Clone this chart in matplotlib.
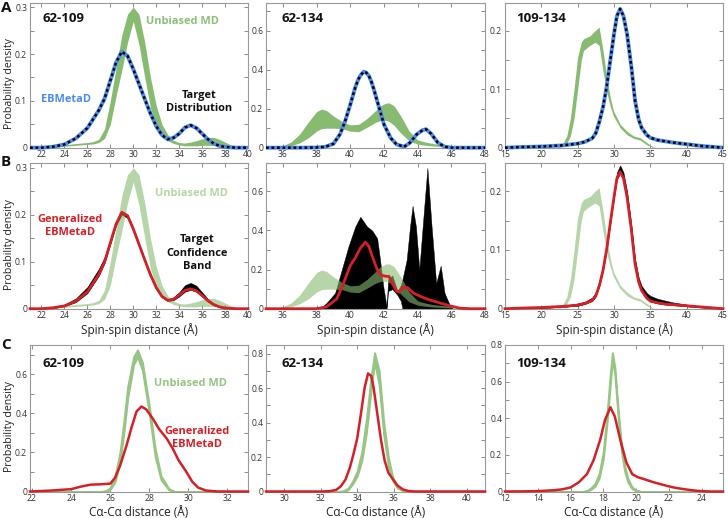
import numpy as np
import matplotlib
matplotlib.use("Agg")
import matplotlib.pyplot as plt
from matplotlib.ticker import MultipleLocator, FuncFormatter

plt.rcParams['font.family'] = ['Open Sans', 'DejaVu Sans']

# ---------------- DATA ----------------
# 62-109 spin-spin (panels A/B left)
x_t1 = [21, 22, 23, 24, 25, 26, 27, 27.5, 28, 28.5, 29, 29.5, 30, 30.5, 31, 31.5, 32, 32.5, 33, 33.5,
        34, 34.5, 35, 35.5, 36, 36.5, 37, 37.5, 38, 39, 40]
target_1 = [0, 0, 0.002, 0.007, 0.02, 0.042, 0.08, 0.105, 0.143, 0.182, 0.205, 0.196, 0.168, 0.136, 0.104,
            0.073, 0.046, 0.027, 0.018, 0.021, 0.03, 0.043, 0.048, 0.042, 0.03, 0.018, 0.009, 0.004, 0.0015, 0, 0]
gen_1 = [0, 0, 0.002, 0.006, 0.016, 0.036, 0.073, 0.1, 0.14, 0.18, 0.205, 0.198, 0.17, 0.137, 0.104, 0.072,
         0.045, 0.026, 0.018, 0.02, 0.029, 0.039, 0.042, 0.038, 0.028, 0.017, 0.009, 0.004, 0.0015, 0, 0]
band_hi_1 = [0, 0, 0.003, 0.009, 0.022, 0.046, 0.085, 0.11, 0.147, 0.185, 0.208, 0.2, 0.172, 0.139, 0.106,
             0.075, 0.048, 0.029, 0.02, 0.024, 0.035, 0.05, 0.055, 0.049, 0.035, 0.021, 0.011, 0.005, 0.002, 0, 0]
band_lo_1 = [0, 0, 0.001, 0.005, 0.014, 0.033, 0.07, 0.097, 0.137, 0.177, 0.2, 0.193, 0.165, 0.133, 0.1,
             0.069, 0.042, 0.024, 0.016, 0.018, 0.026, 0.036, 0.04, 0.036, 0.026, 0.015, 0.007, 0.003, 0.001, 0, 0]
x_md1 = [21, 22, 23, 24, 25, 26, 26.5, 27, 27.5, 28, 28.5, 29, 29.5, 30, 30.5, 31, 31.5, 32, 32.5, 33, 33.5,
         34, 34.5, 35, 35.5, 36, 36.5, 37, 37.5, 38, 38.5, 39, 40]
md_hi_1 = [0, 0.001, 0.003, 0.006, 0.009, 0.011, 0.013, 0.018, 0.04, 0.1, 0.17, 0.24, 0.285, 0.30, 0.285,
           0.225, 0.15, 0.09, 0.05, 0.028, 0.016, 0.011, 0.01, 0.012, 0.015, 0.019, 0.022, 0.022, 0.018,
           0.012, 0.006, 0.002, 0]
md_lo_1 = [0, 0, 0.001, 0.003, 0.005, 0.007, 0.008, 0.011, 0.02, 0.05, 0.11, 0.165, 0.225, 0.27, 0.22,
           0.15, 0.085, 0.045, 0.025, 0.015, 0.009, 0.006, 0.004, 0.004, 0.004, 0.005, 0.005, 0.005, 0.004,
           0.002, 0.001, 0, 0]

# 62-134 spin-spin (panels A/B middle)
x_t2 = [35, 37, 38, 38.5, 39, 39.4, 39.7, 40, 40.3, 40.45, 40.6, 40.8, 40.95, 41.1, 41.25, 41.4, 41.7, 42,
        42.4, 42.75, 43.2, 43.55, 43.95, 44.3, 44.5, 44.8, 45.2, 45.6, 46, 47, 48]
target_2 = [0, 0, 0.001, 0.004, 0.02, 0.07, 0.137, 0.22, 0.31, 0.345, 0.37, 0.39, 0.385, 0.37, 0.34, 0.30,
            0.21, 0.12, 0.05, 0.017, 0.005, 0.026, 0.069, 0.09, 0.095, 0.072, 0.026, 0.005, 0, 0, 0]
x_g2 = [35, 38, 38.6, 39.2, 39.6, 40, 40.3, 40.6, 40.9, 41.1, 41.3, 41.6, 41.8, 42.1, 42.3, 42.5, 42.75,
        42.9, 43.15, 43.4, 43.75, 44.25, 44.7, 45.3, 45.9, 46.5, 47.1, 48]
gen_2 = [0, 0, 0.01, 0.05, 0.13, 0.22, 0.26, 0.31, 0.34, 0.32, 0.27, 0.2, 0.172, 0.166, 0.165, 0.13, 0.09,
         0.085, 0.11, 0.108, 0.08, 0.06, 0.045, 0.03, 0.015, 0.003, 0, 0]
x_b2 = [35, 38.2, 38.6, 39.1, 39.5, 39.9, 40.3, 40.6, 41.0, 41.3, 41.6, 41.77, 41.96, 42.16, 42.25, 42.5,
        42.8, 43.0, 43.1, 43.35, 43.55, 43.7, 43.9, 44.1, 44.3, 44.58, 44.83, 44.99, 45.1, 45.37, 45.6,
        45.9, 46.1, 48]
band_hi_2 = [0, 0, 0.03, 0.08, 0.2, 0.32, 0.42, 0.47, 0.42, 0.40, 0.36, 0.25, 0.115, 0.01, 0.15, 0.17,
             0.09, 0.12, 0.15, 0.25, 0.42, 0.526, 0.42, 0.2, 0.42, 0.72, 0.42, 0.25, 0.13, 0.22, 0.08,
             0.02, 0, 0]
band_lo_2 = [0, 0, 0, 0, 0, 0, 0, 0, 0, 0, 0, 0, 0, 0, 0.09, 0.1, 0.07, 0.04, 0, 0, 0, 0, 0, 0, 0, 0, 0,
             0, 0, 0, 0, 0, 0, 0]
x_md2 = [35, 35.5, 36, 36.5, 37, 37.5, 38, 38.3, 38.6, 39, 39.5, 40, 40.5, 41, 41.5, 41.8, 42.1, 42.3,
         42.6, 43, 43.5, 44, 44.5, 45, 45.5, 46, 46.5, 47, 47.5, 48]
md_hi_2 = [0, 0.003, 0.01, 0.03, 0.07, 0.13, 0.185, 0.198, 0.19, 0.163, 0.135, 0.117, 0.12, 0.15, 0.19,
           0.215, 0.228, 0.23, 0.215, 0.163, 0.085, 0.04, 0.028, 0.02, 0.016, 0.012, 0.009, 0.006, 0.003,
           0.001]
md_lo_2 = [0, 0.001, 0.003, 0.01, 0.025, 0.05, 0.085, 0.098, 0.1, 0.1, 0.098, 0.085, 0.082, 0.105, 0.13,
           0.14, 0.14, 0.135, 0.115, 0.075, 0.035, 0.018, 0.012, 0.008, 0.006, 0.004, 0.003, 0.001, 0.0005, 0]

# 109-134 spin-spin (panels A/B right)
x_t3 = [15, 17, 20, 23, 25, 26, 27, 27.5, 28, 28.5, 29, 29.5, 30, 30.4, 30.85, 31.3, 31.8, 32.4, 32.9,
        33.4, 33.8, 34.5, 35, 36, 37, 38, 40, 42, 44, 45]
target_3 = [0, 0.001, 0.002, 0.004, 0.007, 0.01, 0.016, 0.025, 0.045, 0.07, 0.105, 0.15, 0.194, 0.225,
            0.237, 0.225, 0.194, 0.137, 0.08, 0.048, 0.034, 0.022, 0.017, 0.013, 0.011, 0.009, 0.006,
            0.003, 0.001, 0]
gen_3 = [0, 0.001, 0.002, 0.004, 0.006, 0.009, 0.014, 0.022, 0.04, 0.066, 0.102, 0.147, 0.19, 0.222,
         0.233, 0.222, 0.19, 0.133, 0.076, 0.045, 0.031, 0.018, 0.013, 0.01, 0.008, 0.007, 0.005, 0.003,
         0.001, 0]
band_hi_3 = [0, 0.001, 0.003, 0.005, 0.009, 0.012, 0.019, 0.028, 0.048, 0.074, 0.11, 0.155, 0.2, 0.232,
             0.244, 0.232, 0.2, 0.142, 0.085, 0.053, 0.039, 0.027, 0.022, 0.017, 0.014, 0.011, 0.007,
             0.004, 0.001, 0]
band_lo_3 = [0, 0, 0.001, 0.003, 0.005, 0.008, 0.013, 0.021, 0.039, 0.065, 0.1, 0.145, 0.188, 0.22, 0.23,
             0.22, 0.188, 0.131, 0.075, 0.044, 0.03, 0.017, 0.012, 0.009, 0.007, 0.006, 0.004, 0.002, 0, 0]
x_md3 = [15, 22, 22.5, 23, 23.5, 24, 24.5, 25, 25.5, 25.8, 26.7, 27.4, 27.95, 28.5, 29, 29.5, 29.93,
         30.85, 31.8, 32.7, 33.6, 34.5, 35.4, 36, 45]
md_hi_3 = [0, 0, 0.003, 0.008, 0.02, 0.05, 0.1, 0.155, 0.18, 0.186, 0.191, 0.2, 0.206, 0.165, 0.12,
           0.085, 0.063, 0.04, 0.028, 0.02, 0.017, 0.009, 0.001, 0, 0]
md_lo_3 = [0, 0, 0.001, 0.003, 0.008, 0.02, 0.05, 0.1, 0.15, 0.166, 0.175, 0.18, 0.175, 0.13, 0.095,
           0.07, 0.054, 0.034, 0.022, 0.016, 0.013, 0.005, 0, 0, 0]

# C-alpha distances (panels C)
x_c1 = [21.9, 23, 24, 24.5, 25, 25.5, 26, 26.25, 26.5, 26.85, 27.1, 27.35, 27.6, 27.85, 28.2, 28.5, 28.9,
        29.2, 29.5, 29.9, 30.2, 30.5, 30.9, 31.5, 33.05]
gen_c1 = [0, 0.005, 0.012, 0.025, 0.035, 0.037, 0.04, 0.07, 0.13, 0.24, 0.33, 0.41, 0.435, 0.42, 0.37,
          0.32, 0.27, 0.22, 0.16, 0.1, 0.05, 0.02, 0.005, 0, 0]
x_mc1 = [21.9, 25.5, 25.8, 26, 26.25, 26.5, 26.7, 26.9, 27.2, 27.4, 27.65, 28, 28.3, 28.6, 29, 29.3, 33.05]
mc_hi_1 = [0, 0, 0.005, 0.02, 0.08, 0.2, 0.36, 0.54, 0.69, 0.725, 0.66, 0.44, 0.22, 0.08, 0.015, 0, 0]
mc_lo_1 = [0, 0, 0, 0.01, 0.05, 0.15, 0.3, 0.48, 0.65, 0.69, 0.62, 0.40, 0.18, 0.06, 0.008, 0, 0]

x_c2 = [29, 32, 32.5, 32.85, 33.1, 33.36, 33.6, 33.8, 34, 34.2, 34.4, 34.59, 34.77, 34.9, 35.1, 35.3, 35.5,
        35.7, 35.96, 36.2, 36.5, 36.8, 37.2, 41]
gen_c2 = [0, 0, 0.002, 0.01, 0.03, 0.07, 0.14, 0.22, 0.31, 0.45, 0.6, 0.685, 0.67, 0.6, 0.45, 0.3, 0.18,
          0.11, 0.07, 0.035, 0.012, 0.003, 0, 0]
x_mc2 = [29, 33, 33.25, 33.5, 33.75, 34, 34.25, 34.5, 34.75, 34.95, 35.2, 35.45, 35.7, 35.95, 36.2, 36.5,
         36.8, 37, 41]
mc_hi_2 = [0, 0, 0.005, 0.02, 0.06, 0.12, 0.23, 0.42, 0.66, 0.805, 0.7, 0.4, 0.2, 0.08, 0.03, 0.01, 0.002,
           0, 0]
mc_lo_2 = [0, 0, 0, 0.01, 0.045, 0.09, 0.18, 0.34, 0.58, 0.75, 0.62, 0.33, 0.15, 0.06, 0.02, 0.005, 0, 0, 0]

x_c3 = [12, 13, 14, 15, 15.5, 16, 16.5, 17, 17.4, 17.8, 18.1, 18.43, 18.7, 19.04, 19.4, 19.76, 20.1, 20.47,
        21.08, 21.5, 21.9, 22.4, 22.9, 23.3, 23.7, 24.2, 24.6, 25.3]
gen_c3 = [0, 0.0005, 0.002, 0.007, 0.012, 0.022, 0.05, 0.095, 0.17, 0.28, 0.39, 0.46, 0.41, 0.28, 0.16,
          0.095, 0.078, 0.068, 0.05, 0.04, 0.03, 0.02, 0.013, 0.008, 0.004, 0.001, 0, 0]
x_mc3 = [12, 16.75, 17, 17.25, 17.5, 17.75, 18, 18.25, 18.4, 18.55, 18.7, 18.9, 19.1, 19.3, 19.5, 19.75,
         20, 20.3, 25.3]
mc_hi_3 = [0, 0, 0.005, 0.02, 0.045, 0.1, 0.22, 0.45, 0.62, 0.758, 0.68, 0.45, 0.26, 0.14, 0.07, 0.025,
           0.008, 0, 0]
mc_lo_3 = [0, 0, 0.002, 0.012, 0.03, 0.075, 0.18, 0.4, 0.56, 0.718, 0.64, 0.41, 0.22, 0.11, 0.05, 0.015,
           0.003, 0, 0]

pair_labels = ["62-109", "62-134", "109-134"]

# ---------------- STYLE ----------------
GREEN = '#86bb70'
GREEN_C = '#96c584'
BLUE = '#4a8cf0'
RED = '#d42027'
W, H = 728, 518

fig = plt.figure(figsize=(W / 100, H / 100), dpi=100)

cols = [(30, 248), (266, 485), (505, 723)]
rows = [(2.5, 147.7), (163, 308.7), (345, 491.5)]


def make_ax(r, c):
    x0, x1 = cols[c]
    y0, y1 = rows[r]
    return fig.add_axes([x0 / W, 1 - y1 / H, (x1 - x0) / W, (y1 - y0) / H])


fmt = FuncFormatter(lambda v, p: ('%g' % round(v, 3)))


def style(ax, xlim, xmaj, ylim, ymaj, ymin):
    ax.set_xlim(*xlim)
    ax.set_ylim(*ylim)
    ax.xaxis.set_major_locator(MultipleLocator(xmaj))
    ax.yaxis.set_major_locator(MultipleLocator(ymaj))
    ax.yaxis.set_minor_locator(MultipleLocator(ymin))
    ax.xaxis.set_major_formatter(fmt)
    ax.yaxis.set_major_formatter(fmt)
    ax.tick_params(which='both', direction='in', top=True, right=True, length=3, width=0.6,
                   colors='#777777', labelcolor='#333333', labelsize=6.2, pad=2)
    for s in ax.spines.values():
        s.set_color('#999999')
        s.set_linewidth(0.8)


def target_line(ax, x, y):
    ax.plot(x, y, color=BLUE, lw=2.8, solid_capstyle='butt', zorder=5, clip_on=False)
    ax.plot(x, y, color='black', lw=1.8, linestyle=(0, (1.1, 1.1)), zorder=6, clip_on=False)


xlims = [(21, 40), (35, 48), (15, 45)]
xmajs = [2, 2, 5]
ylimsAB = [(0, 0.31), (0, 0.745), (0, 0.248)]
ymajAB = [(0.1, 0.05), (0.2, 0.1), (0.1, 0.05)]

md_x = [x_md1, x_md2, x_md3]
md_hi = [md_hi_1, md_hi_2, md_hi_3]
md_lo = [md_lo_1, md_lo_2, md_lo_3]
t_x = [x_t1, x_t2, x_t3]
t_y = [target_1, target_2, target_3]
g_x = [x_t1, x_g2, x_t3]
g_y = [gen_1, gen_2, gen_3]
b_x = [x_t1, x_b2, x_t3]
b_hi = [band_hi_1, band_hi_2, band_hi_3]
b_lo = [band_lo_1, band_lo_2, band_lo_3]

axA, axB = [], []
for c in range(3):
    # row A
    ax = make_ax(0, c)
    ax.fill_between(md_x[c], md_lo[c], md_hi[c], color=GREEN, lw=0, zorder=2)
    target_line(ax, t_x[c], t_y[c])
    style(ax, xlims[c], xmajs[c], ylimsAB[c], *ymajAB[c])
    axA.append(ax)
    # row B
    ax = make_ax(1, c)
    ax.fill_between(b_x[c], b_lo[c], b_hi[c], color='black', lw=0.3, zorder=2)
    ax.fill_between(md_x[c], md_lo[c], md_hi[c], color=GREEN, alpha=0.6, lw=0, zorder=3)
    ax.plot(g_x[c], g_y[c], color=RED, lw=2.0, zorder=6, clip_on=False)
    style(ax, xlims[c], xmajs[c], ylimsAB[c], *ymajAB[c])
    ax.set_xlabel('Spin-spin distance (Å)', fontsize=8.5, labelpad=2, color='#222222')
    axB.append(ax)

c_x = [x_c1, x_c2, x_c3]
c_y = [gen_c1, gen_c2, gen_c3]
cm_x = [x_mc1, x_mc2, x_mc3]
cm_hi = [mc_hi_1, mc_hi_2, mc_hi_3]
cm_lo = [mc_lo_1, mc_lo_2, mc_lo_3]
xlimsC = [(21.9, 33.05), (29, 41), (12, 25.3)]
ylimsC = [(0, 0.75), (0, 0.85), (0, 0.8)]
axC = []
for c in range(3):
    ax = make_ax(2, c)
    ax.fill_between(cm_x[c], cm_lo[c], cm_hi[c], color=GREEN_C, lw=1.4, edgecolor=GREEN_C, zorder=2)
    ax.plot(c_x[c], c_y[c], color=RED, lw=1.8, zorder=6, clip_on=False)
    style(ax, xlimsC[c], 2, ylimsC[c], 0.2, 0.1)
    ax.set_xlabel('Cα-Cα distance (Å)', fontsize=8.5, labelpad=2, color='#222222')
    axC.append(ax)

# y labels (text spans roughly x = 4..15 px of the figure)
for ax in (axA[0], axB[0], axC[0]):
    ax.set_ylabel('Probability density', fontsize=7.6, color='#222222')
    ax.yaxis.set_label_coords(-15 / 218, 0.44)

# pair labels
for c in range(3):
    for ax, yy in ((axA[c], 0.89), (axC[c], 0.875)):
        ax.text(0.155 if c == 0 else 0.165, yy, pair_labels[c], transform=ax.transAxes,
                fontsize=9.5, fontweight='bold', ha='center', va='center', color='#111111')

bold = dict(fontweight='bold', ha='center', va='center', fontsize=7.9)
axA[0].text(0.70, 0.866, 'Unbiased MD', transform=axA[0].transAxes, color='#8cc079', **bold)
axA[0].text(0.165, 0.33, 'EBMetaD', transform=axA[0].transAxes, color=BLUE, **bold)
axA[0].text(0.775, 0.315, 'Target\nDistribution', transform=axA[0].transAxes, color='#111111',
            linespacing=1.3, **bold)
axB[0].text(0.739, 0.794, 'Unbiased MD', transform=axB[0].transAxes, color='#b5d8a5', **bold)
axB[0].text(0.183, 0.568, 'Generalized\nEBMetaD', transform=axB[0].transAxes, color=RED,
            linespacing=1.3, **bold)
axB[0].text(0.766, 0.382, 'Target\nConfidence\nBand', transform=axB[0].transAxes, color='#111111',
            linespacing=1.3, **bold)
axC[0].text(0.734, 0.74, 'Unbiased MD', transform=axC[0].transAxes, color='#96c584', **bold)
axC[0].text(0.766, 0.365, 'Generalized\nEBMetaD', transform=axC[0].transAxes, color=RED,
            linespacing=1.3, **bold)

# panel letters
for letter, ypx in (('A', 8), ('B', 162), ('C', 345)):
    fig.text(1 / W, 1 - ypx / H, letter, fontsize=11, fontweight='bold', ha='left', va='center',
             color='#111111')

fig.savefig('out.png', dpi=100)
